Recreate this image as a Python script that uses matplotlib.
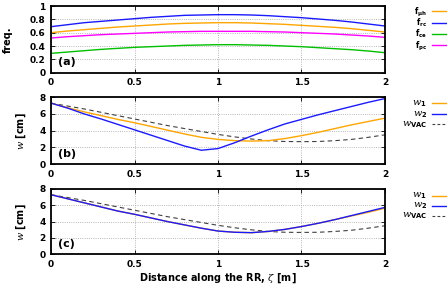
import matplotlib
matplotlib.use("Agg")
import matplotlib.pyplot as plt
from matplotlib.lines import Line2D

plt.rcParams['font.family'] = 'DejaVu Sans'
plt.rcParams['font.weight'] = 'bold'
plt.rcParams['mathtext.fontset'] = 'custom'
plt.rcParams['mathtext.rm'] = 'DejaVu Sans:weight=bold'
plt.rcParams['mathtext.it'] = 'DejaVu Serif:style=italic:weight=normal'
plt.rcParams['mathtext.bf'] = 'DejaVu Sans:weight=bold'

# distance along the RR (m)
zeta = [0.0, 0.1, 0.2, 0.3, 0.4, 0.5, 0.6, 0.7, 0.8, 0.9, 1.0,
        1.1, 1.2, 1.3, 1.4, 1.5, 1.6, 1.7, 1.8, 1.9, 2.0]

# panel (a): frequencies
f_uh = [0.60, 0.625, 0.645, 0.665, 0.685, 0.70, 0.715, 0.73, 0.74, 0.745, 0.75,
        0.75, 0.745, 0.735, 0.725, 0.71, 0.695, 0.68, 0.66, 0.635, 0.61]
f_rc = [0.69, 0.72, 0.75, 0.77, 0.79, 0.81, 0.83, 0.845, 0.86, 0.865, 0.87,
        0.87, 0.865, 0.855, 0.84, 0.825, 0.805, 0.785, 0.76, 0.73, 0.70]
f_ce = [0.29, 0.31, 0.33, 0.35, 0.365, 0.38, 0.39, 0.40, 0.41, 0.415, 0.42,
        0.42, 0.415, 0.41, 0.40, 0.39, 0.375, 0.36, 0.345, 0.325, 0.30]
f_pc = [0.52, 0.54, 0.555, 0.57, 0.58, 0.59, 0.60, 0.61, 0.615, 0.62, 0.62,
        0.62, 0.62, 0.615, 0.61, 0.60, 0.59, 0.58, 0.565, 0.55, 0.53]

# panel (b): widths (cm)
w1_b = [7.3, 6.75, 6.25, 5.8, 5.35, 4.95, 4.5, 4.05, 3.6, 3.2, 2.95,
        2.8, 2.75, 2.8, 3.05, 3.4, 3.8, 4.25, 4.7, 5.1, 5.5]
w2_b = [7.3, 6.7, 6.0, 5.4, 4.75, 4.1, 3.45, 2.8, 2.15, 1.65, 1.85,
        2.55, 3.35, 4.1, 4.8, 5.35, 5.9, 6.4, 6.9, 7.4, 7.85]
w_vac = [7.3, 6.95, 6.6, 6.2, 5.8, 5.4, 5.0, 4.6, 4.25, 3.9, 3.55,
         3.25, 3.0, 2.8, 2.7, 2.68, 2.7, 2.8, 2.95, 3.2, 3.5]

# panel (c): widths (cm)
w1_c = [7.3, 6.8, 6.3, 5.8, 5.3, 4.9, 4.45, 4.0, 3.6, 3.2, 2.85,
        2.7, 2.65, 2.8, 3.05, 3.4, 3.8, 4.25, 4.7, 5.15, 5.65]
w2_c = [7.3, 6.8, 6.3, 5.8, 5.3, 4.9, 4.45, 4.0, 3.6, 3.2, 2.85,
        2.7, 2.65, 2.8, 3.05, 3.4, 3.8, 4.25, 4.75, 5.25, 5.75]

x_ticks = [0, 0.5, 1, 1.5, 2]
x_ticklabels = ['0', '0.5', '1', '1.5', '2']

c_orange = '#FFA500'
c_blue = '#1A1AFF'
c_green = '#00C000'
c_mag = '#FF00FF'
c_dash = '#404040'

fig = plt.figure(figsize=(4.47, 2.90), dpi=100)
W, H = 447.0, 290.0

def mkax(top, bottom):
    return fig.add_axes([51 / W, 1 - bottom / H, 334 / W, (bottom - top) / H])

ax_a = mkax(6, 72.7)
ax_b = mkax(97.3, 164)
ax_c = mkax(189, 254.3)

for ax in (ax_a, ax_b, ax_c):
    ax.set_xlim(0, 2)
    ax.set_xticks(x_ticks)
    ax.set_xticklabels(x_ticklabels)
    ax.tick_params(direction='in', length=3, width=0.6, labelsize=6.5,
                   top=True, right=True, pad=4)
    ax.grid(True, linestyle=':', color='#a0a0a0', linewidth=0.6)
    for s in ax.spines.values():
        s.set_linewidth(1.3)

lw = 1.0
ax_a.plot(zeta, f_uh, color=c_orange, lw=lw)
ax_a.plot(zeta, f_rc, color=c_blue, lw=lw)
ax_a.plot(zeta, f_ce, color=c_green, lw=lw)
ax_a.plot(zeta, f_pc, color=c_mag, lw=lw)
ax_a.set_ylim(0, 1)
ax_a.set_yticks([0, 0.2, 0.4, 0.6, 0.8, 1])
ax_a.set_yticklabels(['0', '0.2', '0.4', '0.6', '0.8', '1'])
ax_a.set_ylabel('freq.', fontsize=7, fontweight='bold', labelpad=12)

ax_b.plot(zeta, w_vac, color=c_dash, lw=0.8, dashes=(4, 3))
ax_b.plot(zeta, w1_b, color=c_orange, lw=lw)
ax_b.plot(zeta, w2_b, color=c_blue, lw=lw)

ax_c.plot(zeta, w_vac, color=c_dash, lw=0.8, dashes=(4, 3))
ax_c.plot(zeta, w1_c, color=c_orange, lw=lw)
ax_c.plot(zeta, w2_c, color=c_blue, lw=lw)

for ax in (ax_b, ax_c):
    ax.set_ylim(0, 8)
    ax.set_yticks([0, 2, 4, 6, 8])
    ax.set_yticklabels(['0', '2', '4', '6', '8'])
    ax.set_ylabel(r'$w$ [cm]', fontsize=7, fontweight='bold', labelpad=8)

for ax in (ax_a, ax_b, ax_c):
    for lab in ax.get_xticklabels() + ax.get_yticklabels():
        lab.set_fontweight('bold')

ax_c.set_xlabel(r'Distance along the RR, $\zeta$ [m]', fontsize=7,
                fontweight='bold', labelpad=2)

for ax, name in ((ax_a, '(a)'), (ax_b, '(b)'), (ax_c, '(c)')):
    ax.text(0.02, 0.08, name, transform=ax.transAxes, fontsize=8,
            fontweight='bold', ha='left', va='bottom')

def key(y, label, color, dashed=False, size=5.6):
    fig.text(427 / W, 1 - y / H, label, ha='right', va='center',
             fontsize=size, fontweight='bold')
    ln = Line2D([432 / W, 447 / W], [1 - y / H, 1 - y / H],
                transform=fig.transFigure, color=color, lw=1.0)
    if dashed:
        ln.set_dashes((2.5, 2))
        ln.set_color(c_dash)
        ln.set_linewidth(0.8)
    fig.add_artist(ln)

key(11.2, r'$\mathbf{f}_{\mathbf{\mu h}}$', c_orange)
key(23.0, r'$\mathbf{f}_{\mathbf{rc}}$', c_blue)
key(33.8, r'$\mathbf{f}_{\mathbf{ce}}$', c_green)
key(45.2, r'$\mathbf{f}_{\mathbf{pc}}$', c_mag)

key(103.3, r'$w_{\mathbf{1}}$', c_orange, size=7)
key(114.3, r'$w_{\mathbf{2}}$', c_blue, size=7)
key(124.3, r'$w_{\mathbf{VAC}}$', c_dash, dashed=True, size=7)

key(195.5, r'$w_{\mathbf{1}}$', c_orange, size=7)
key(205.5, r'$w_{\mathbf{2}}$', c_blue, size=7)
key(215.7, r'$w_{\mathbf{VAC}}$', c_dash, dashed=True, size=7)

fig.savefig('out.png', dpi=100)
